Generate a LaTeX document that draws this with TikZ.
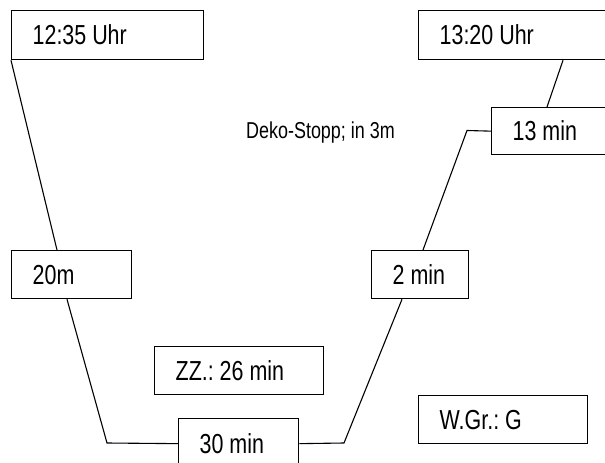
\documentclass[tikz,border=0pt]{standalone}
\usepackage{fontspec}
\setmainfont{Liberation Sans}[FakeStretch=0.78]
\frenchspacing
\tikzset{
  tbox/.style={draw, line width=1.3pt, anchor=north west, align=flush left,
    inner xsep=0pt, inner ysep=0pt, text height=19.5pt, text depth=0pt,
    execute at begin node={\hspace*{21pt}},
    font=\fontsize{27.5}{30}\selectfont},
  link/.style={line width=1.1pt}
}
\begin{document}
\begin{tikzpicture}[x=1pt,y=-1pt]
\useasboundingbox (0,0) rectangle (605,463);
\clip (0,0) rectangle (605,463);

% time and depth boxes
\node[tbox, minimum width=192pt, minimum height=49pt, text width=192pt] (t1) at (11,10) {12:35 Uhr};
\node[tbox, minimum width=250pt, minimum height=49pt, text width=250pt] (t2) at (418,10) {13:20 Uhr};
\node[tbox, minimum width=200pt, minimum height=47pt, text width=200pt] (d13) at (491,107) {13 min};
\node[tbox, minimum width=120pt, minimum height=48pt, text width=120pt] (m20) at (11,250) {20m};
\node[tbox, minimum width=97pt, minimum height=48pt, text width=97pt] (m2) at (371,250) {2 min};
\node[tbox, minimum width=169pt, minimum height=48pt, text width=169pt] (zz) at (154,346) {ZZ.: 26 min};
\node[tbox, minimum width=120pt, minimum height=50pt, text width=120pt] (m30) at (178,418) {30 min};
\node[tbox, minimum width=169pt, minimum height=48pt, text width=169pt] (wg) at (418,395) {W.Gr.: G};

% stop label
\node[anchor=base west, inner sep=0pt, font=\fontsize{23}{26}\selectfont] (deko) at (246,138) {Deko-Stopp; in 3m};

% dive profile
\coordinate (b1) at (107,443);
\coordinate (b2) at (344,443);
\coordinate (b3) at (467,130.5);

\draw[link] (t1.south west) -- ([xshift=46pt]m20.north west);
\draw[link] ([xshift=56pt]m20.south west) -- (b1) -- (m30.west);
\draw[link] (m30.east) -- (b2) -- ([xshift=31pt]m2.south west);
\draw[link] ([xshift=52pt]m2.north west) -- (b3) -- (d13.west);
\draw[link] ([xshift=56pt]d13.north west) -- ([xshift=145pt]t2.south west);
\end{tikzpicture}
\end{document}
